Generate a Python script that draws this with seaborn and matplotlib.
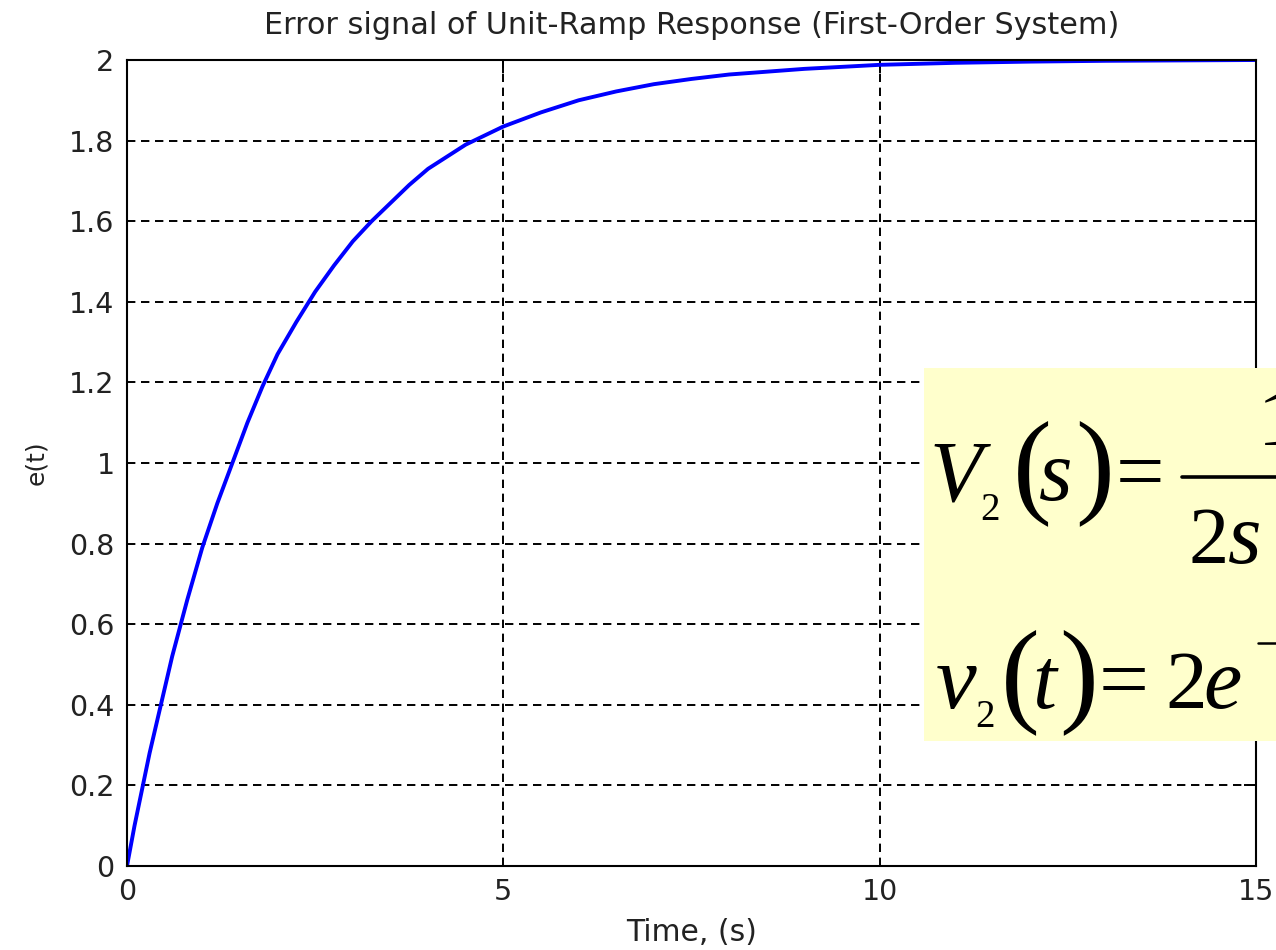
import numpy as np
import pandas as pd
import matplotlib
matplotlib.use("Agg")
import matplotlib.pyplot as plt
import seaborn as sns
from matplotlib.patches import Rectangle
from matplotlib.lines import Line2D

# ---- data ----
time_s = [0, 0.1, 0.2, 0.3, 0.4, 0.5, 0.6, 0.8, 1.0, 1.2, 1.4, 1.6, 1.8, 2.0,
          2.25, 2.5, 2.75, 3.0, 3.25, 3.5, 3.75, 4.0, 4.5, 5.0, 5.5, 6.0, 6.5,
          7.0, 7.5, 8.0, 9.0, 10.0, 11.0, 12.0, 13.0, 14.0, 15.0]
error_e = [0, 0.10, 0.19, 0.28, 0.36, 0.44, 0.52, 0.66, 0.79, 0.90, 1.00,
           1.10, 1.19, 1.27, 1.35, 1.425, 1.49, 1.55, 1.60, 1.645, 1.69, 1.73,
           1.79, 1.835, 1.87, 1.90, 1.922, 1.94, 1.953, 1.964, 1.978, 1.988,
           1.993, 1.996, 1.998, 1.999, 2.0]
xticks = [0, 5, 10, 15]
yticks = [0, 0.2, 0.4, 0.6, 0.8, 1, 1.2, 1.4, 1.6, 1.8, 2]
ytick_labels = ["0", "0.2", "0.4", "0.6", "0.8", "1", "1.2", "1.4", "1.6", "1.8", "2"]
title = "Error signal of Unit-Ramp Response (First-Order System)"
xlabel = "Time, (s)"
ylabel = "e(t)"

df = pd.DataFrame({"t": time_s, "e": error_e})

sns.set_style("white")
plt.rcParams["font.family"] = ["DejaVu Sans"]

W, H = 1276, 950
fig = plt.figure(figsize=(W / 100, H / 100), dpi=100)
fig.patch.set_facecolor("white")

def fx(x):
    return x / W

def fy(y):
    return 1 - y / H

ax = fig.add_axes([fx(127), fy(866), fx(1256) - fx(127), fy(60) - fy(866)])
sns.lineplot(data=df, x="t", y="e", ax=ax, color="#0000FF", linewidth=2.8,
             estimator=None, sort=False)
ax.set_xlim(0, 15)
ax.set_ylim(0, 2)
ax.set_xticks(xticks)
ax.set_xticklabels([str(v) for v in xticks])
ax.set_yticks(yticks)
ax.set_yticklabels(ytick_labels)
ax.tick_params(direction="in", length=9, width=1.4, pad=9, labelsize=20.5,
               top=True, right=True, colors="black", labelcolor="#222222")
for sp in ax.spines.values():
    sp.set_visible(True)
    sp.set_color("black")
    sp.set_linewidth(1.5)
ax.grid(True, color="black", linestyle=(0, (4.3, 2.9)), linewidth=1.4)
ax.set_axisbelow(True)
ax.set_title(title, fontsize=21.8, color="#222222", pad=19)
ax.set_xlabel(xlabel, fontsize=21.5, color="#222222", labelpad=8)
ax.set_ylabel(ylabel, fontsize=18, color="#222222")
ax.yaxis.set_label_coords((48 - 127) / (1256 - 127), 0.5)

# ---- yellow formula box (overlay) ----
box = Rectangle((fx(924), fy(741)), 1 - fx(924) + 0.01, fy(368) - fy(741),
                transform=fig.transFigure, facecolor="#FFFFCC",
                edgecolor="none", zorder=10)
fig.add_artist(box)

serif = ["Liberation Serif", "DejaVu Serif"]

def put(x, y, s, size, style="normal"):
    fig.text(fx(x), fy(y), s, fontsize=size, fontstyle=style, family=serif,
             ha="left", va="baseline", color="black", zorder=11)

# first equation
put(930, 500, "V", 62, "italic")
put(980, 520, "2", 28)
put(1013, 501, "(", 84)
put(1039, 500, "s", 62, "italic")
put(1075, 501, ")", 84)
put(1116, 500, "=", 62)
fig.add_artist(Line2D([fx(1182), fx(1290)], [fy(477), fy(477)],
                      transform=fig.transFigure, color="black", lw=2.6, zorder=11))
put(1258, 445, "1", 58)
put(1188, 563, "2", 58)
put(1228, 563, "s", 62, "italic")

# second equation
put(936, 708, "v", 66, "italic")
put(975, 727, "2", 28)
put(1001, 710, "(", 84)
put(1032, 708, "t", 62, "italic")
put(1059, 710, ")", 84)
put(1099, 708, "=", 64)
put(1165, 708, "2", 60)
put(1203, 708, "e", 62, "italic")
fig.add_artist(Line2D([fx(1258), fx(1290)], [fy(643), fy(643)],
                      transform=fig.transFigure, color="black", lw=1.8, zorder=11))

fig.savefig("out.png", dpi=100, facecolor="white")
